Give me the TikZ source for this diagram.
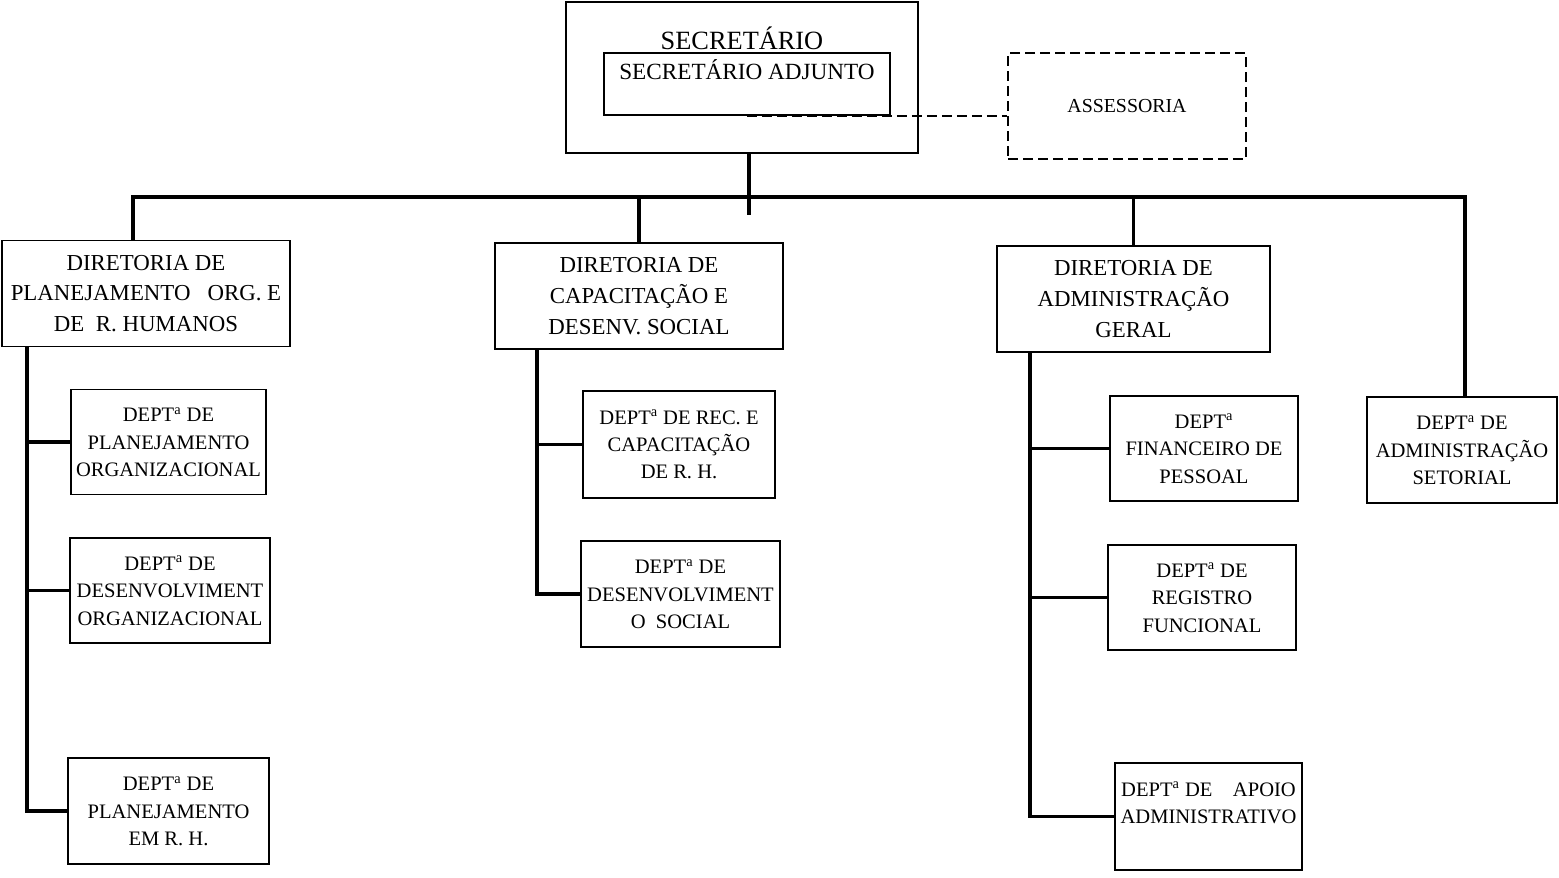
\documentclass[tikz,border=0pt]{standalone}
\usepackage{fontspec}
\setmainfont{Liberation Serif}
\usepackage{tikz}
\usetikzlibrary{positioning}

\begin{document}
\begin{tikzpicture}[x=0.02cm, y=-0.02cm]
    \tikzstyle{topblock} = [draw, rectangle, line width=1pt, inner sep=0pt]
    \tikzstyle{dirblock} = [draw, rectangle, line width=1pt, align=center, inner sep=0pt, minimum height=2.12cm, font=\fontsize{13}{17.5}\selectfont]
    \tikzstyle{deptblock} = [draw, rectangle, line width=1pt, align=center, inner sep=0pt, minimum height=2.1cm, font=\fontsize{11.7}{15.6}\selectfont]
    \tikzstyle{dashblock} = [draw, rectangle, line width=1.1pt, dash pattern=on 0.2cm off 0.1cm, minimum width=4.76cm, minimum height=2.12cm, font=\fontsize{11.3}{14}\selectfont]
    \tikzstyle{line} = [draw, line width=2.1pt]
    \useasboundingbox (0,0) rectangle (1559,877);

    % top of the chart
    \node [topblock, minimum width=7.04cm, minimum height=3.02cm,
        label={[anchor=north, inner sep=0pt, yshift=-0.5cm, font=\fontsize{15}{18}\selectfont]north:SECRETÁRIO}] (sec) at (742,77.5) {};
    \node [topblock, minimum width=5.72cm, minimum height=1.24cm,
        label={[anchor=north, inner sep=0pt, yshift=-0.14cm, font=\fontsize{13.2}{16}\selectfont]north:SECRETÁRIO ADJUNTO}] (adj) at (747,84) {};
    \node [dashblock] (assess) at (1127,106) {ASSESSORIA};

    % directorias
    \node [dirblock, minimum width=5.76cm] (dirplan) at (146,293.5) {DIRETORIA DE\\PLANEJAMENTO\ \ \ ORG. E\\DE\ \ R. HUMANOS};
    \node [dirblock, minimum width=5.76cm] (dircap) at (639,296) {DIRETORIA DE\\CAPACITAÇÃO E\\DESENV. SOCIAL};
    \node [dirblock, minimum width=5.46cm] (diradm) at (1133.5,299) {DIRETORIA DE\\ADMINISTRAÇÃO\\GERAL};
    \node [deptblock, minimum width=3.8cm, minimum height=2.12cm] (setor) at (1462,450) {DEPT\textsuperscript{a} DE\\ADMINISTRAÇÃO\\SETORIAL};

    % departamentos
    \node [deptblock, minimum width=3.9cm] (planorg) at (168.5,442) {DEPT\textsuperscript{a} DE\\PLANEJAMENTO\\ORGANIZACIONAL};
    \node [deptblock, minimum width=4.0cm] (desorg) at (170,590.5) {DEPT\textsuperscript{a} DE\\DESENVOLVIMENT\\ORGANIZACIONAL};
    \node [deptblock, minimum width=4.02cm, minimum height=2.12cm] (planrh) at (168.5,811) {DEPT\textsuperscript{a} DE\\PLANEJAMENTO\\EM R. H.};
    \node [deptblock, minimum width=3.84cm, minimum height=2.14cm] (recap) at (679,444.5) {DEPT\textsuperscript{a} DE REC. E\\CAPACITAÇÃO\\DE R. H.};
    \node [deptblock, minimum width=3.98cm, minimum height=2.12cm] (dessoc) at (680.5,594) {DEPT\textsuperscript{a} DE\\DESENVOLVIMENT\\O\ \ SOCIAL};
    \node [deptblock, minimum width=3.76cm] (finpes) at (1204,448.5) {DEPT\textsuperscript{a}\\FINANCEIRO DE\\PESSOAL};
    \node [deptblock, minimum width=3.76cm] (regfun) at (1202,597.5) {DEPT\textsuperscript{a} DE\\REGISTRO\\FUNCIONAL};
    \node [deptblock, minimum width=3.74cm, minimum height=2.14cm] (apoio) at (1208.5,816.5) {DEPT\textsuperscript{a} DE\quad APOIO\\ADMINISTRATIVO\\ };

    % assessoria link
    \draw [line width=1.1pt, dash pattern=on 0.2cm off 0.1cm] (adj.south) -- (adj.south -| assess.west);

    % main bus
    \coordinate (stem) at (749,215);
    \coordinate (busl) at (133,197);
    \coordinate (busr) at (1465,197);
    \draw [line] (sec.south -| stem) -- (stem);
    \draw [line] (dirplan.north -| busl) -- (busl) -- (busr) -- (setor.north -| busr);
    \draw [line] (dircap.north) -- (dircap.north |- busl);
    \draw [line] (diradm.north) -- (diradm.north |- busl);

    % spines to the departamentos
    \coordinate (spl) at (27,0);
    \coordinate (spm) at (537,0);
    \coordinate (spr) at (1030,0);
    \draw [line] (dirplan.south -| spl) |- (planrh.west);
    \draw [line] (planorg.west) -- (planorg.west -| spl);
    \draw [line] (desorg.west) -- (desorg.west -| spl);
    \draw [line] (dircap.south -| spm) |- (dessoc.west);
    \draw [line] (recap.west) -- (recap.west -| spm);
    \draw [line] (diradm.south -| spr) |- (apoio.west);
    \draw [line] (finpes.west) -- (finpes.west -| spr);
    \draw [line] (regfun.west) -- (regfun.west -| spr);
\end{tikzpicture}
\end{document}
